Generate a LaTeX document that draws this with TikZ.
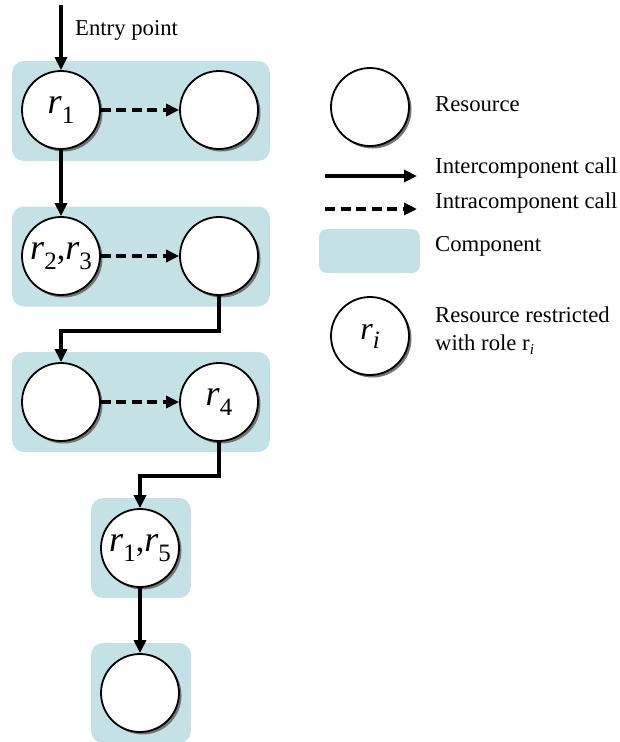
\documentclass[tikz,border=0pt]{standalone}
\usepackage{fontspec}
\setmainfont{Liberation Serif}
\usetikzlibrary{arrows.meta,shadows}

\definecolor{compblue}{RGB}{196,225,230}

% italic r with an upright subscript, as used inside the resource circles
\newcommand{\rvar}[1]{{\fontsize{36}{36}\selectfont\itshape r}\raisebox{-10pt}{\fontsize{25}{25}\selectfont #1}}
\newcommand{\bigcomma}{{\fontsize{34}{34}\selectfont ,}}

\tikzset{
  comp/.style={rectangle, rounded corners=12pt, fill=compblue, draw=none, inner sep=0pt},
  res/.style={circle, draw=black, line width=1.8pt, fill=white, minimum size=78pt, inner sep=0pt,
    drop shadow={shadow xshift=2.5pt, shadow yshift=-2.5pt, fill=black!55, opacity=1}},
  call/.style={line width=3.2pt, -{Triangle[length=13pt,width=12pt]}},
  intracall/.style={call, dash pattern=on 10pt off 5.5pt},
  lbl/.style={anchor=west, inner sep=0pt, font=\fontsize{22.7}{28}\selectfont, align=left}
}

\begin{document}
\begin{tikzpicture}[x=1pt,y=-1pt]
\useasboundingbox (0,0) rectangle (619,742);

% components
\node[comp, minimum width=258pt, minimum height=100pt] (k1) at (141,111) {};
\node[comp, minimum width=258pt, minimum height=100pt] (k2) at (141,256.5) {};
\node[comp, minimum width=258pt, minimum height=100pt] (k3) at (141,402) {};
\node[comp, minimum width=100pt, minimum height=100pt] (k4) at (141,548) {};
\node[comp, minimum width=100pt, minimum height=100pt] (k5) at (141,693) {};

% resources
\node[res] (c1a) at (61,110) {\rvar{1}};
\node[res] (c1b) at (219,110) {};
\node[res] (c2a) at (61,256) {\rvar{2}\bigcomma\rvar{3}};
\node[res] (c2b) at (219,256) {};
\node[res] (c3a) at (61,402) {};
\node[res] (c3b) at (219,402) {\rvar{4}};
\node[res] (c4) at (140,548) {\rvar{1}\bigcomma\rvar{5}};
\node[res] (c5) at (140,693) {};

% entry point
\coordinate (entry) at (61,5);
\draw[call] (entry) -- (c1a.north);
\node[lbl] (entrytxt) at (75,30) {Entry point};

% calls
\draw[intracall] (c1a.east) -- (c1b.west);
\draw[intracall] (c2a.east) -- (c2b.west);
\draw[intracall] (c3a.east) -- (c3b.west);
\draw[call] (c1a.south) -- (c2a.north);
\draw[call] (c2b.south) -- ++(0,35) -| (c3a.north);
\draw[call] (c3b.south) -- ++(0,34) -| (c4.north);
\draw[call] (c4.south) -- (c5.north);

% legend
\node[res] (lres) at (370,107) {};
\node[lbl] (lrestxt) at (435,104) {Resource};

\coordinate (la1) at (325,176);
\coordinate (la2) at (417,176);
\draw[call] (la1) -- (la2);
\node[lbl] (latxt) at (435,168) {Intercomponent call};

\coordinate (lb1) at (325,209);
\coordinate (lb2) at (417,209);
\draw[intracall] (lb1) -- (lb2);
\node[lbl] (lbtxt) at (435,203) {Intracomponent call};

\node[comp, rounded corners=8pt, minimum width=101pt, minimum height=44pt] (lcomp) at (369.5,251) {};
\node[lbl] (lcomptxt) at (435,246) {Component};

\node[res] (lrole) at (370,336) {{\fontsize{32}{32}\selectfont\itshape r}\raisebox{-9pt}{\fontsize{25}{25}\selectfont\itshape i}};
\node[lbl] (lroletxt) at (435,331) {Resource restricted\\with role r\raisebox{-4pt}{\fontsize{15}{15}\selectfont\textit{i}}};
\end{tikzpicture}
\end{document}
